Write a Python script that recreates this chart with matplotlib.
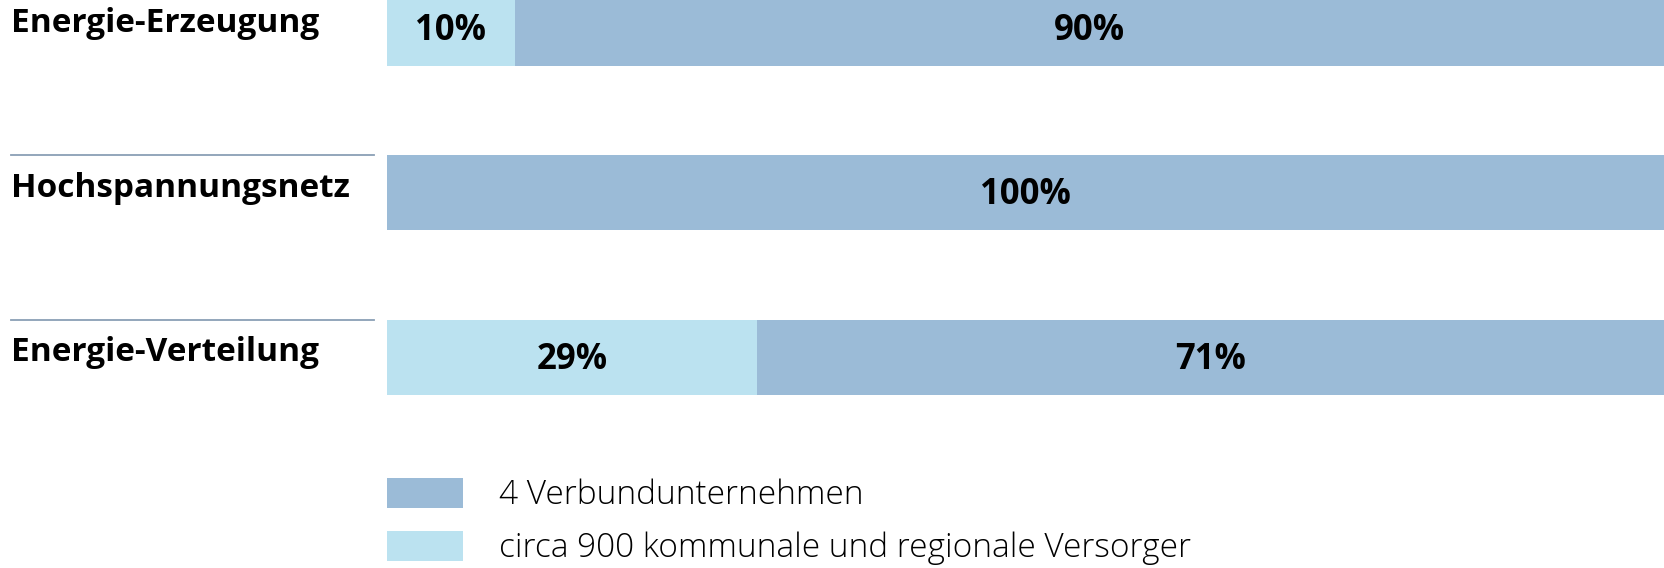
import matplotlib
matplotlib.use("Agg")
import matplotlib.pyplot as plt
import matplotlib.transforms as mtransforms
from matplotlib.lines import Line2D
from matplotlib.patches import Patch

# Data (shares in percent)
categories = ["Energie-Erzeugung", "Hochspannungsnetz", "Energie-Verteilung"]
regional = [10, 0, 29]     # circa 900 kommunale und regionale Versorger
verbund = [90, 100, 71]    # 4 Verbundunternehmen
series_names = ["4 Verbundunternehmen", "circa 900 kommunale und regionale Versorger"]

col_verbund = "#9bbbd7"
col_regional = "#bbe2f0"
font = "Open Sans"

W, H = 1664, 568
fig = plt.figure(figsize=(W / 100, H / 100), dpi=100)
# bars area spans from x=387px to the right edge, full height
ax = fig.add_axes([387 / W, 0, 1 - 387 / W, 1])

spacing = 164.5  # px between bar centres
first_center = 28.0
ax.set_ylim((H - first_center) / spacing, -first_center / spacing)
ax.set_xlim(0, 100)
bar_h = 75 / spacing

ypos = list(range(len(categories)))
ax.barh(ypos, regional, height=bar_h, color=col_regional, linewidth=0)
ax.barh(ypos, verbund, left=regional, height=bar_h, color=col_verbund, linewidth=0)

for y, r, v in zip(ypos, regional, verbund):
    if r > 0:
        ax.text(r / 2, y + 0.07, f"{r}%", ha="center", va="baseline", fontsize=25,
                fontweight="bold", family=font)
    if v > 0:
        ax.text(r + v / 2, y + 0.07, f"{v}%", ha="center", va="baseline", fontsize=25,
                fontweight="bold", family=font)

ax.axis("off")

# category labels and separator lines left of the bars
blend = mtransforms.blended_transform_factory(fig.transFigure, ax.transData)
for i, (y, cat) in enumerate(zip(ypos, categories)):
    fig.text(11 / W, y + 0.025, cat, transform=blend, ha="left", va="baseline",
             fontsize=24, fontweight="bold", family=font)
    if i > 0:
        fig.add_artist(Line2D([11 / W, 374 / W], [y - bar_h / 2, y - bar_h / 2],
                              transform=blend, color="#8a9fb5", linewidth=1.3))

handles = [Patch(facecolor=col_verbund, edgecolor="none"),
           Patch(facecolor=col_regional, edgecolor="none")]
fig.legend(handles, series_names, loc="upper left",
           bbox_to_anchor=(387 / W, 1 - 478 / H), frameon=False,
           prop={"family": font, "size": 24, "weight": "light"},
           handlelength=2.28, handleheight=1.0, handletextpad=1.08,
           labelspacing=0.56, borderpad=0, borderaxespad=0)

fig.savefig("out.png", dpi=100)
